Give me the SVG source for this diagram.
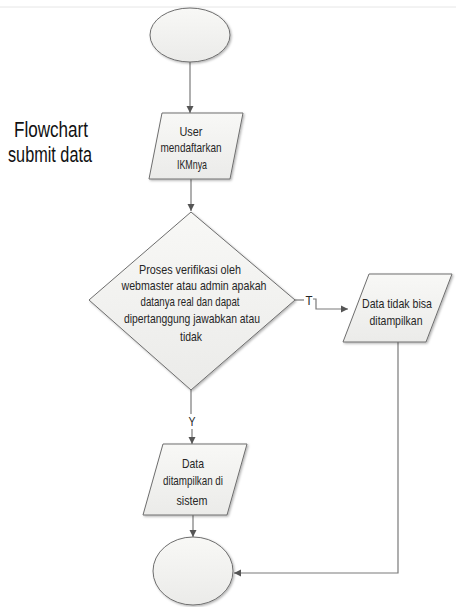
<svg xmlns="http://www.w3.org/2000/svg" width="456" height="607" viewBox="0 0 456 607">
<style>
.shape{fill:url(#g);stroke:#6e6e6e;stroke-width:1;filter:url(#sh)}
.conn{fill:none;stroke:#7a7a7a;stroke-width:1.2}
.t{font-family:"Liberation Sans",Arial,sans-serif;font-size:13.5px;fill:#262626;text-anchor:middle}
.title{font-family:"Liberation Sans",Arial,sans-serif;font-size:22px;fill:#111}
</style>
<defs>
<linearGradient id="g" x1="0" y1="0" x2="0" y2="1">
<stop offset="0" stop-color="#f8f8f6"/>
<stop offset="1" stop-color="#ebebe9"/>
</linearGradient>
<filter id="sh" x="-10%" y="-10%" width="130%" height="130%">
<feDropShadow dx="1.2" dy="1.2" stdDeviation="0.8" flood-color="#000" flood-opacity="0.3"/>
</filter>
<marker id="a" markerWidth="8" markerHeight="8" refX="7" refY="4" orient="auto" markerUnits="userSpaceOnUse">
<path d="M0,0.5 L7,4 L0,7.5 Z" fill="#555"/>
</marker>
</defs>
<rect x="0" y="0" width="456" height="607" fill="#fff"/>
<line x1="0" y1="7" x2="456" y2="7" stroke="#e6e6e6" stroke-width="1"/>
<g id="title">
<text class="title" x="14" y="137" textLength="74" lengthAdjust="spacingAndGlyphs">Flowchart</text>
<text class="title" x="8" y="162" textLength="84" lengthAdjust="spacingAndGlyphs">submit data</text>
</g>
<g id="connectors">
<line class="conn" x1="190" y1="62" x2="190" y2="113" marker-end="url(#a)"/>
<line class="conn" x1="191" y1="179" x2="191" y2="211" marker-end="url(#a)"/>
<path class="conn" d="M295,300 H304"/>
<path class="conn" d="M313,299 H316 V309 H348" marker-end="url(#a)"/>
<text class="t" x="309" y="305" font-size="12" textLength="7" lengthAdjust="spacingAndGlyphs">T</text>
<path class="conn" d="M191,390 V414"/>
<text class="t" x="192" y="426" font-size="12" textLength="7" lengthAdjust="spacingAndGlyphs">Y</text>
<line class="conn" x1="192" y1="429" x2="192" y2="444" marker-end="url(#a)"/>
<line class="conn" x1="193" y1="515" x2="193" y2="537" marker-end="url(#a)"/>
<path class="conn" d="M398,342 V573 H234" marker-end="url(#a)"/>
</g>
<g id="start">
<ellipse class="shape" cx="190" cy="35" rx="40" ry="27"/>
</g>
<g id="input-user">
<polygon class="shape" points="162,113 243,113 230,179 149,179"/>
<text class="t" x="191" y="136" textLength="23" lengthAdjust="spacingAndGlyphs">User</text>
<text class="t" x="191" y="152" textLength="61" lengthAdjust="spacingAndGlyphs">mendaftarkan</text>
<text class="t" x="192" y="169" textLength="30" lengthAdjust="spacingAndGlyphs">IKMnya</text>
</g>
<g id="decision">
<polygon class="shape" points="191,212 295,300 191,390 89,300"/>
<text class="t" x="190" y="274" textLength="102" lengthAdjust="spacingAndGlyphs">Proses verifikasi oleh</text>
<text class="t" x="194" y="290" textLength="145" lengthAdjust="spacingAndGlyphs">webmaster atau admin apakah</text>
<text class="t" x="190" y="306" textLength="99" lengthAdjust="spacingAndGlyphs">datanya real dan dapat</text>
<text class="t" x="192" y="323" textLength="136" lengthAdjust="spacingAndGlyphs">dipertanggung jawabkan atau</text>
<text class="t" x="191" y="341" textLength="22" lengthAdjust="spacingAndGlyphs">tidak</text>
</g>
<g id="output-error">
<polygon class="shape" points="369,274 452,274 426,342 343,342"/>
<text class="t" x="397" y="308" textLength="70" lengthAdjust="spacingAndGlyphs">Data tidak bisa</text>
<text class="t" x="396" y="325" textLength="53" lengthAdjust="spacingAndGlyphs">ditampilkan</text>
</g>
<g id="output-data">
<polygon class="shape" points="163,444 247,444 227,515 143,515"/>
<text class="t" x="193" y="468" textLength="22" lengthAdjust="spacingAndGlyphs">Data</text>
<text class="t" x="193" y="485" textLength="60" lengthAdjust="spacingAndGlyphs">ditampilkan di</text>
<text class="t" x="192" y="505" textLength="31" lengthAdjust="spacingAndGlyphs">sistem</text>
</g>
<g id="end">
<ellipse class="shape" cx="193" cy="571" rx="40" ry="34"/>
</g>
</svg>
